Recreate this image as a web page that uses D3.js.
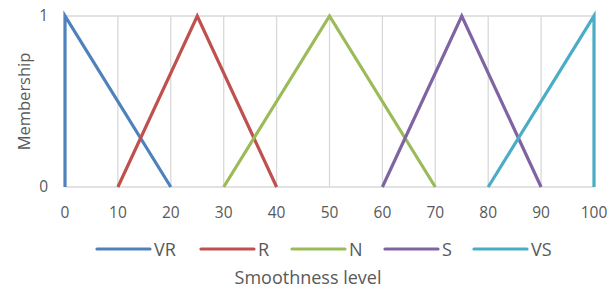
<!DOCTYPE html>
<html>
<head>
<meta charset="utf-8">
<script src="https://cdn.jsdelivr.net/npm/d3@7"></script>
<style>
  body { margin: 0; background: #fff; }
  text { font-family: "Open Sans", "Liberation Sans", sans-serif; fill: #595959; }
</style>
</head>
<body>
<svg id="drawing_region"></svg>
<script>
// membership function breakpoints
const seriesNames = ["VR", "R", "N", "S", "VS"];
const seriesX = [
    [0, 0, 20],
    [10, 25, 40],
    [30, 50, 70],
    [60, 75, 90],
    [80, 100, 100]
];
const seriesY = [
    [0, 1, 0],
    [0, 1, 0],
    [0, 1, 0],
    [0, 1, 0],
    [0, 1, 0]
];
const colors = ["#4f81bd", "#c0504d", "#9bbb59", "#8064a2", "#4bacc6"];
const xTicks = [0, 10, 20, 30, 40, 50, 60, 70, 80, 90, 100];
const yTicks = [0, 1];

const width = 614, height = 293;
const margin = { left: 65, right: 20, top: 16, bottom: 106 };

const svg = d3.select('#drawing_region')
    .attr('width', width)
    .attr('height', height);

const x = d3.scaleLinear().domain([0, 100]).range([margin.left, width - margin.right]);
const y = d3.scaleLinear().domain([0, 1]).range([height - margin.bottom, margin.top]);

// grid
svg.append('g').selectAll('line.vg')
    .data(xTicks.filter(d => d > 0))
    .enter().append('line')
    .attr('x1', d => x(d)).attr('x2', d => x(d))
    .attr('y1', y(0)).attr('y2', y(1))
    .attr('stroke', '#d9d9d9').attr('stroke-width', 1.3);

svg.append('g').selectAll('line.hg')
    .data(yTicks)
    .enter().append('line')
    .attr('x1', x(0)).attr('x2', x(100))
    .attr('y1', d => y(d)).attr('y2', d => y(d))
    .attr('stroke', '#d9d9d9').attr('stroke-width', 1.3);

// tick labels
svg.append('g').selectAll('text')
    .data(xTicks)
    .enter().append('text')
    .attr('x', d => x(d))
    .attr('y', y(0) + 31)
    .attr('text-anchor', 'middle')
    .style('font-size', '15.5px')
    .text(d => d);

svg.append('g').selectAll('text')
    .data(yTicks)
    .enter().append('text')
    .attr('x', x(0) - 17)
    .attr('y', d => y(d) + 5)
    .attr('text-anchor', 'end')
    .style('font-size', '15.5px')
    .text(d => d);

// lines
const line = d3.line().x(d => x(d[0])).y(d => y(d[1]));

seriesNames.forEach((name, i) => {
    const pts = seriesX[i].map((v, j) => [v, seriesY[i][j]]);
    svg.append('path')
        .datum(pts)
        .attr('d', line)
        .attr('fill', 'none')
        .attr('stroke', colors[i])
        .attr('stroke-width', 3.2)
        .attr('stroke-linejoin', 'miter');
});

// legend
const legendX = [97, 201, 292, 385, 474];
const legend = svg.append('g').selectAll('g')
    .data(seriesNames)
    .enter().append('g')
    .attr('transform', (d, i) => `translate(${legendX[i]},249)`);

legend.append('line')
    .attr('x1', 0).attr('x2', 53)
    .attr('stroke', (d, i) => colors[i])
    .attr('stroke-width', 3.2)
    .attr('stroke-linecap', 'round');

legend.append('text')
    .attr('x', 57)
    .attr('y', 6.5)
    .style('font-size', '18px')
    .text(d => d);

// axis titles
svg.append('text')
    .attr('x', 308)
    .attr('y', 284)
    .attr('text-anchor', 'middle')
    .style('font-size', '18px')
    .text('Smoothness level');

svg.append('text')
    .attr('transform', `translate(30,${(y(0) + y(1)) / 2}) rotate(-90)`)
    .attr('text-anchor', 'middle')
    .style('font-size', '16.5px')
    .text('Membership');
</script>
</body>
</html>
